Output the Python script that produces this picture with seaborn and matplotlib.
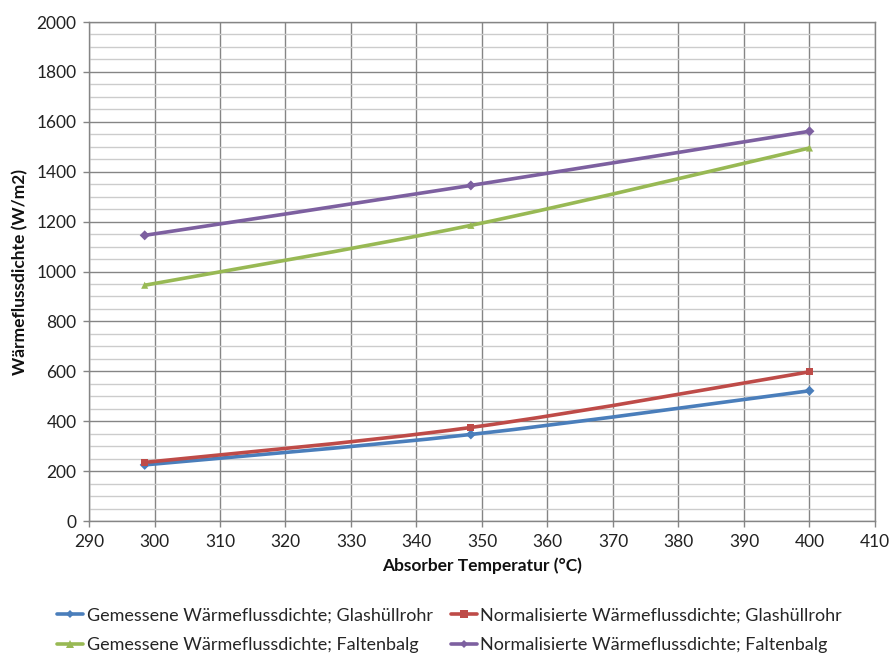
import numpy as np
import pandas as pd
import matplotlib
matplotlib.use("Agg")
import matplotlib.pyplot as plt
from matplotlib.path import Path
from matplotlib.patches import PathPatch
from matplotlib.ticker import MultipleLocator
from matplotlib.lines import Line2D
import seaborn as sns

# Absorber temperature (°C) of the three measurement points
temperatur = [298.5, 348.3, 400.0]

# Heat flux density (W/m2) per series
gemessen_glas = [225, 347, 522]
normalisiert_glas = [235, 375, 598]
gemessen_falten = [945, 1185, 1495]
normalisiert_falten = [1145, 1345, 1562]

serien = [
    "Gemessene Wärmeflussdichte; Glashüllrohr",
    "Normalisierte Wärmeflussdichte; Glashüllrohr",
    "Gemessene Wärmeflussdichte; Faltenbalg",
    "Normalisierte Wärmeflussdichte; Faltenbalg",
]
werte = [gemessen_glas, normalisiert_glas, gemessen_falten, normalisiert_falten]
farben = ["#4A7EBB", "#BE4B48", "#98B954", "#7D60A0"]
marker = ["D", "s", "^", "D"]
marker_size = [4, 6, 6, 4]

df = pd.DataFrame(
    [(s, t, v) for s, ws in zip(serien, werte) for t, v in zip(temperatur, ws)],
    columns=["Serie", "Temperatur", "Wert"],
)

sns.set_theme(style="white")
plt.rcParams["font.family"] = ["Lato", "DejaVu Sans"]

fig = plt.figure(figsize=(8.91, 6.53), dpi=100)
ax = fig.add_axes([0.0999, 0.2021, 0.8821, 0.7642])


def glatte_kurve(xs, ys):
    """Smoothed Bezier path through the points (spreadsheet-style smoothing)."""
    p = np.column_stack([xs, ys]).astype(float)
    pts = np.vstack([p[0], p, p[-1]])
    verts = [p[0]]
    codes = [Path.MOVETO]
    for i in range(1, len(pts) - 2):
        c1 = pts[i] + (pts[i + 1] - pts[i - 1]) / 6.0
        c2 = pts[i + 1] - (pts[i + 2] - pts[i]) / 6.0
        verts += [c1, c2, pts[i + 1]]
        codes += [Path.CURVE4] * 3
    return Path(verts, codes)


for s, ws, c in zip(serien, werte, farben):
    ax.add_patch(PathPatch(glatte_kurve(temperatur, ws), facecolor="none",
                           edgecolor=c, lw=2.6, zorder=3))

sns.scatterplot(data=df, x="Temperatur", y="Wert", hue="Serie", style="Serie",
                palette=dict(zip(serien, farben)),
                markers=dict(zip(serien, marker)),
                s=26, linewidth=0, legend=False, ax=ax, zorder=4)

ax.set_xlim(290, 410)
ax.set_ylim(0, 2000)
ax.xaxis.set_major_locator(MultipleLocator(10))
ax.yaxis.set_major_locator(MultipleLocator(200))
ax.yaxis.set_minor_locator(MultipleLocator(50))

ax.grid(which="major", axis="both", color="#858585", lw=1.0)
ax.grid(which="minor", axis="y", color="#CCCCCC", lw=1.0)
ax.set_axisbelow(True)
for sp in ax.spines.values():
    sp.set_color("#858585")
    sp.set_linewidth(1.0)

ax.tick_params(axis="both", which="major", direction="out", length=4, width=1,
               color="#858585", labelsize=12.5, labelcolor="#222222", pad=5,
               bottom=True, left=True)
ax.tick_params(axis="both", which="minor", length=0)

ax.set_xlabel("Absorber Temperatur (°C)", fontsize=12.5, fontweight="bold",
              color="#111111", labelpad=6)
ax.set_ylabel("Wärmeflussdichte (W/m2)", fontsize=12.5, fontweight="bold",
              color="#111111", labelpad=6)

handles = [Line2D([], [], color=c, lw=2.6, marker=m, markersize=ms * 0.9,
                  markeredgewidth=0)
           for c, m, ms in zip(farben, marker, marker_size)]
reihenfolge = [0, 2, 1, 3]
fig.legend([handles[i] for i in reihenfolge], [serien[i] for i in reihenfolge],
           loc="center", bbox_to_anchor=(0.5045, 0.035), ncol=2, frameon=False,
           fontsize=13, handlelength=1.45, handletextpad=0.2,
           columnspacing=1.0, labelspacing=0.75)

fig.savefig("out.png", dpi=100, facecolor="white")
